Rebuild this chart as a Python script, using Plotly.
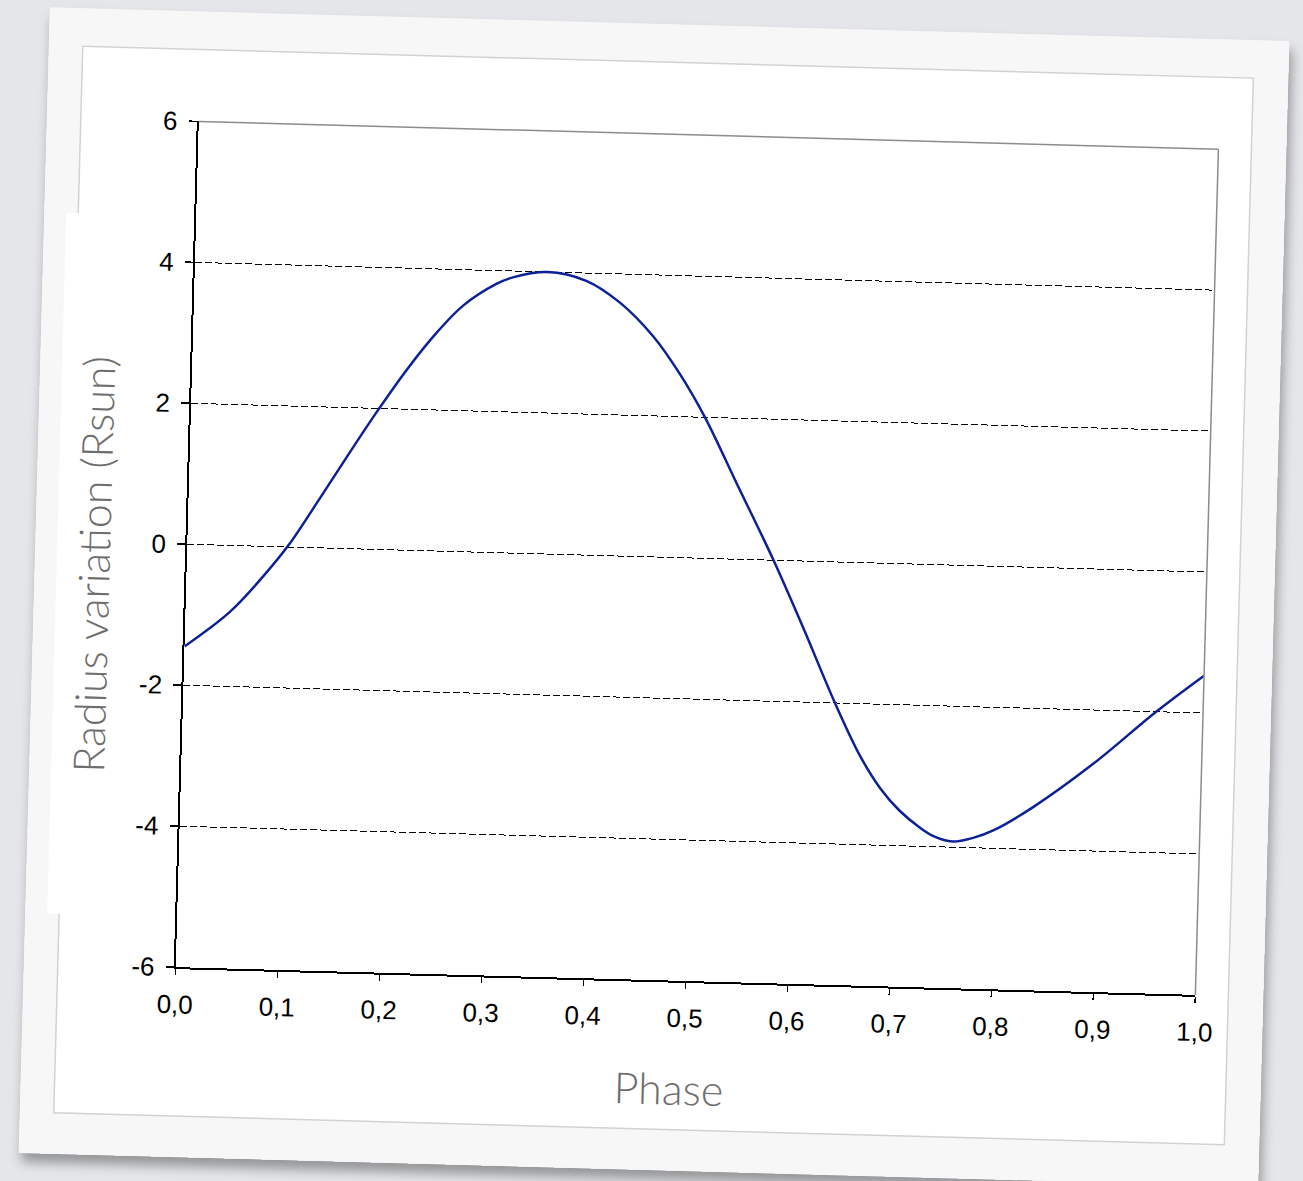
import plotly.graph_objects as go

# ---- data ----
phase = [0.0, 0.043, 0.075, 0.099, 0.129, 0.157, 0.184, 0.210, 0.239, 0.264,
         0.296, 0.312, 0.3455, 0.384, 0.417, 0.451, 0.478, 0.504, 0.537, 0.575,
         0.606, 0.639, 0.665, 0.685, 0.705, 0.726, 0.739, 0.758, 0.778, 0.797, 0.836,
         0.894, 0.954, 1.0]
radius = [-1.45, -0.95, -0.43, 0.02, 0.71, 1.37, 1.99, 2.55, 3.10, 3.49,
          3.81, 3.91, 4.0, 3.89, 3.60, 3.13, 2.61, 2.00, 1.07, 0.0,
          -0.95, -2.0, -2.74, -3.18, -3.50, -3.74, -3.85, -3.92, -3.86, -3.75, -3.40,
          -2.76, -2.0, -1.47]

x_ticks = [0.0, 0.1, 0.2, 0.3, 0.4, 0.5, 0.6, 0.7, 0.8, 0.9, 1.0]
x_labels = ["0,0", "0,1", "0,2", "0,3", "0,4", "0,5", "0,6", "0,7", "0,8", "0,9", "1,0"]
y_ticks = [-6, -4, -2, 0, 2, 4, 6]
y_labels = ["-6", "-4", "-2", "0", "2", "4", "6"]
x_title = "Phase"
y_title = "Radius variation (Rsun)"

# ---- layout geometry (card coordinates) ----
W, H = 1240, 1146
ML, MR, MT, MB = 152, 68, 110, 190
PW, PH = W - ML - MR, H - MT - MB


def px(lx, ly):
    return (lx - ML) / PW, (H - MB - ly) / PH


fig = go.Figure()
fig.add_trace(go.Scatter(x=phase, y=radius, mode="lines",
                         line=dict(color="#0c2196", width=2.5, shape="spline", smoothing=1.0),
                         hoverinfo="skip", showlegend=False))

shapes = []
# inner photo frame
fx0, fy0 = px(34, 1105)
fx1, fy1 = px(1205, 38)
shapes.append(dict(type="rect", xref="paper", yref="paper", x0=fx0, y0=fy0, x1=fx1, y1=fy1,
                   fillcolor="white", line=dict(color="#d2d2d2", width=1.5), layer="below"))
# white box behind the y title
bx0, by0 = px(22, 906)
bx1, by1 = px(110, 205)
shapes.append(dict(type="rect", xref="paper", yref="paper", x0=bx0, y0=by0, x1=bx1, y1=by1,
                   fillcolor="white", line=dict(width=0), layer="below"))
# gray top / right border
shapes.append(dict(type="line", xref="x domain", yref="y domain", x0=0, y0=1, x1=1, y1=1,
                   line=dict(color="#8c8c8c", width=1.5), layer="above"))
shapes.append(dict(type="line", xref="x domain", yref="y domain", x0=1, y0=0, x1=1, y1=1,
                   line=dict(color="#8c8c8c", width=1.5), layer="above"))

ax, ay = px(58, 556)
tx, ty = px(648, 1063)
title_font = dict(family="Lato", size=43, color="#6e6e6e", weight=300)
annotations = [
    dict(text=y_title, xref="paper", yref="paper", x=ax, y=ay, showarrow=False,
         textangle=-90, xanchor="center", yanchor="middle", font=title_font),
    dict(text=x_title, xref="paper", yref="paper", x=tx, y=ty, showarrow=False,
         xanchor="center", yanchor="middle", font=title_font),
]

tickfont = dict(family="Liberation Sans, Arial", size=26, color="black")
fig.update_layout(
    width=W, height=H,
    margin=dict(l=ML, r=MR, t=MT, b=MB, pad=0),
    paper_bgcolor="#f7f7f7", plot_bgcolor="white",
    shapes=shapes, annotations=annotations,
    xaxis=dict(range=[0, 1], tickvals=x_ticks, ticktext=x_labels, showgrid=False,
               zeroline=False, showline=True, linecolor="black", linewidth=2,
               ticks="outside", ticklen=6, tickwidth=1.5, tickcolor="black",
               tickfont=tickfont, ticklabelstandoff=7),
    yaxis=dict(range=[-6, 6], tickvals=y_ticks, ticktext=y_labels, showgrid=True,
               gridcolor="black", gridwidth=1, griddash="7px,3px", zeroline=False,
               showline=True, linecolor="black", linewidth=2, ticks="outside",
               ticklen=8, tickwidth=1.5, tickcolor="black", tickfont=tickfont,
               ticklabelstandoff=6),
)

post = """
var d=document.getElementById('{plot_id}');
document.documentElement.style.background='#e4e6e9';
document.documentElement.style.overflow='hidden';
document.body.style.margin='0';
document.body.style.overflow='hidden';
document.body.style.background='#e4e6e9';
d.style.position='absolute';
d.style.left='34px';
d.style.top='24px';
d.style.transformOrigin='50% 50%';
d.style.transform='rotate(1.56deg)';
d.style.boxShadow='3px 9px 12px rgba(0,0,0,0.35)';
"""

fig.write_html("out.html", config={"displayModeBar": False, "staticPlot": True},
               post_script=post)
